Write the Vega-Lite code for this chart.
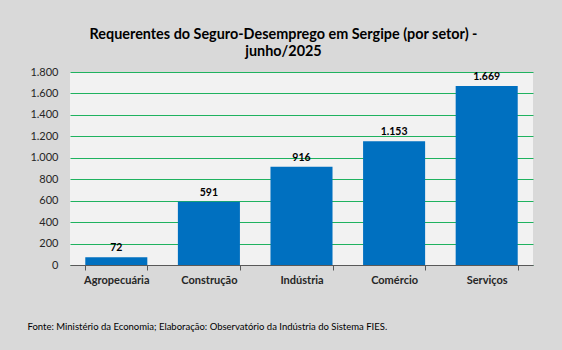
{
  "$schema": "https://vega.github.io/schema/vega-lite/v6.json",
  "autosize": {"type": "none"},
  "width": 463,
  "height": 193,
  "padding": {"left": 70, "top": 72, "right": 29, "bottom": 85},
  "background": "#D9D9D9",
  "config": {
    "font": "Lato",
    "view": {"fill": "#F2F2F2", "stroke": null},
    "locale": {"number": {"decimal": ",", "thousands": ".", "grouping": [3], "currency": ["R$", ""]}}
  },
  "title": {
    "text": ["Requerentes do Seguro-Desemprego em Sergipe (por setor) -", "junho/2025"],
    "font": "Lato",
    "fontSize": 14.4,
    "fontWeight": "bold",
    "color": "#000000",
    "lineHeight": 17,
    "anchor": "middle",
    "dx": -18,
    "offset": 7
  },
  "data": {
    "values": [
      {"setor": "Agropecuária", "valor": 72},
      {"setor": "Construção", "valor": 591},
      {"setor": "Indústria", "valor": 916},
      {"setor": "Comércio", "valor": 1153},
      {"setor": "Serviços", "valor": 1669}
    ]
  },
  "encoding": {
    "x": {
      "field": "setor",
      "type": "nominal",
      "sort": null,
      "scale": {"paddingInner": 0.33, "paddingOuter": 0.165},
      "axis": {
        "title": "Fonte: Ministério da Economia; Elaboração: Observatório da Indústria do Sistema FIES.",
        "titleFont": "Lato",
        "titleFontSize": 9.5,
        "titleFontWeight": "normal",
        "titleColor": "#000000",
        "titleAnchor": "start",
        "titleAlign": "left",
        "titleBaseline": "alphabetic",
        "titleX": -43,
        "titleY": 64,
        "labelAngle": 0,
        "labelFont": "Lato",
        "labelFontSize": 11,
        "labelFontWeight": "bold",
        "labelColor": "#262626",
        "labelPadding": 4,
        "tickBand": "extent",
        "tickSize": 5,
        "tickColor": "#595959",
        "domainColor": "#595959",
        "grid": false
      }
    },
    "y": {
      "field": "valor",
      "type": "quantitative",
      "scale": {"domain": [0, 1800], "nice": false},
      "axis": {
        "title": null,
        "values": [0, 200, 400, 600, 800, 1000, 1200, 1400, 1600, 1800],
        "format": ",d",
        "labelFont": "Lato",
        "labelFontSize": 11,
        "labelColor": "#262626",
        "labelPadding": 12,
        "ticks": false,
        "domain": false,
        "grid": true,
        "gridColor": "#1FB25F",
        "gridWidth": 1
      }
    }
  },
  "layer": [
    {"mark": {"type": "bar", "color": "#0070C0"}},
    {
      "mark": {"type": "text", "baseline": "bottom", "dy": -4, "font": "Lato", "fontSize": 10.5, "fontWeight": "bold", "color": "#000000"},
      "encoding": {"text": {"field": "valor", "type": "quantitative", "format": ",d"}}
    }
  ]
}
